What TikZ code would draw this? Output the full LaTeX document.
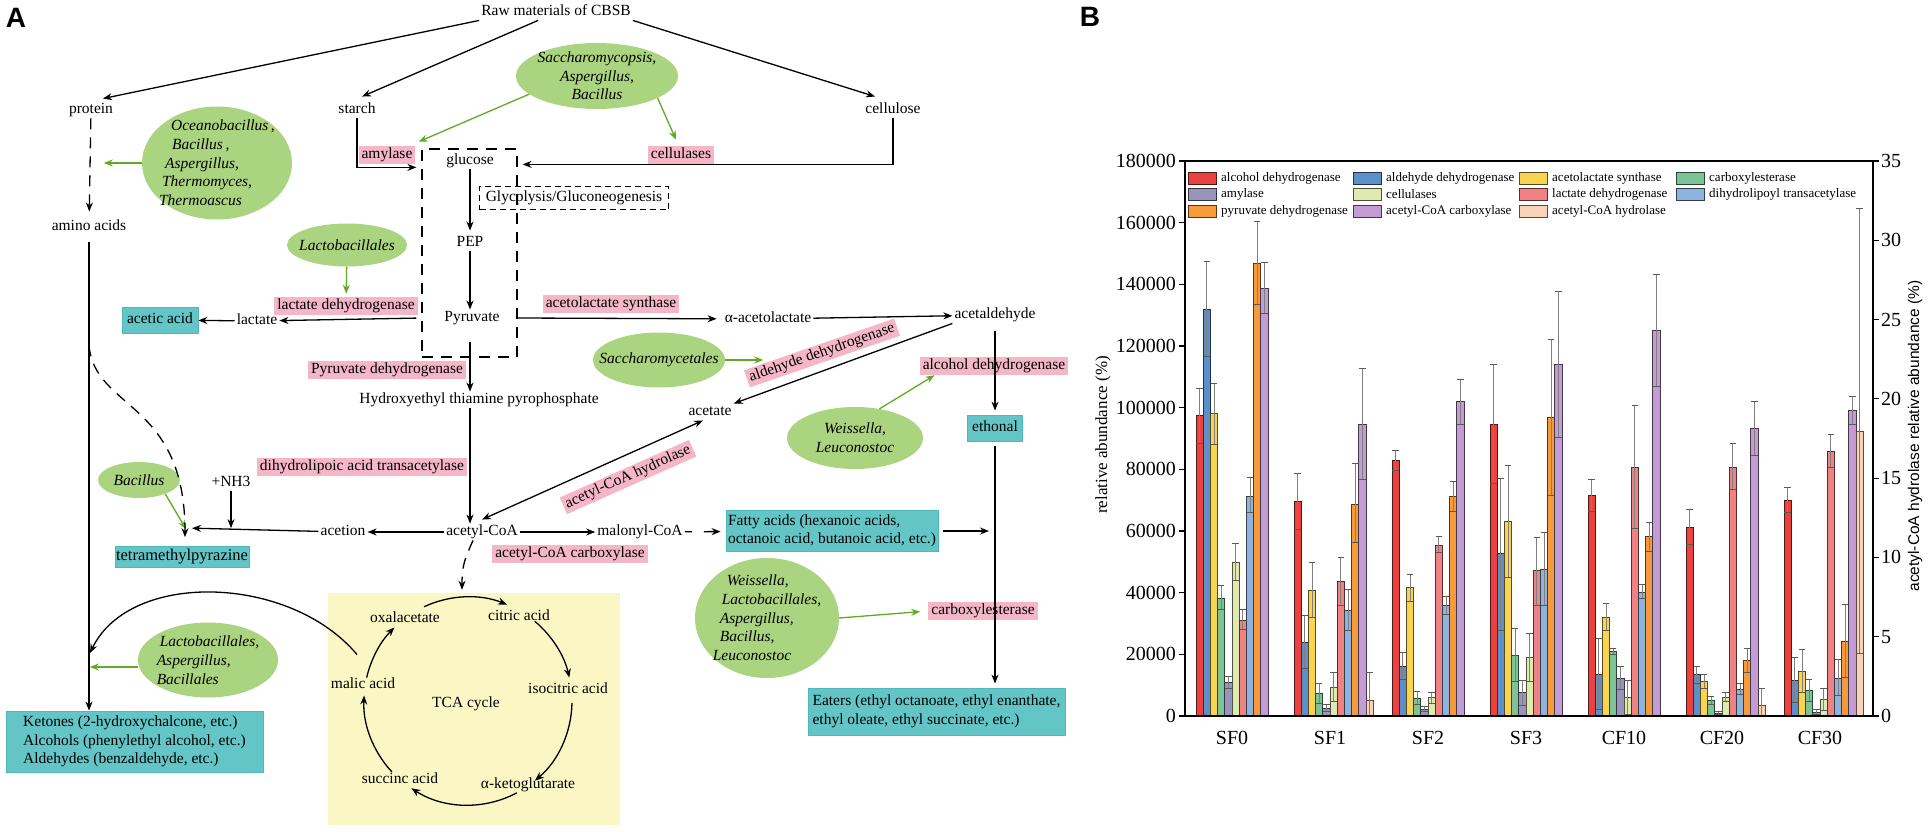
\documentclass[tikz,border=0pt]{standalone}
\usepackage{fontspec}
\setmainfont{Liberation Serif}
\setsansfont{Liberation Sans}
\usetikzlibrary{arrows.meta,shapes.geometric,calc}

\definecolor{enzpink}{RGB}{245,182,200}
\definecolor{prodteal}{RGB}{99,197,198}
\definecolor{prodline}{RGB}{80,184,186}
\definecolor{micgreen}{RGB}{170,212,127}
\definecolor{arrgreen}{RGB}{98,170,38}
\definecolor{tcayellow}{RGB}{251,247,197}
\definecolor{bar1}{RGB}{234,66,62}
\definecolor{bar2}{RGB}{92,144,203}
\definecolor{bar3}{RGB}{248,212,80}
\definecolor{bar4}{RGB}{124,196,150}
\definecolor{bar5}{RGB}{152,148,186}
\definecolor{bar6}{RGB}{222,234,176}
\definecolor{bar7}{RGB}{240,130,132}
\definecolor{bar8}{RGB}{142,180,222}
\definecolor{bar9}{RGB}{246,154,58}
\definecolor{bar10}{RGB}{196,156,212}
\definecolor{bar11}{RGB}{250,210,184}

\tikzset{
  >={Stealth[length=9pt,width=7pt]},
  base/.style={font=\fontsize{15.5}{18}\selectfont,inner xsep=2pt,inner ysep=1pt,
    text height=11pt,text depth=3.5pt},
  enz/.style={base,fill=enzpink,inner xsep=3pt,inner ysep=1.8pt},
  prod/.style={base,fill=prodteal,draw=prodline,line width=0.8pt},
  prodbox/.style={font=\fontsize{15.5}{18.5}\selectfont,fill=prodteal,draw=prodline,
    line width=0.8pt,align=left,inner sep=0pt},
  mic/.style={ellipse,fill=micgreen,inner sep=0pt},
  mictext/.style={font=\fontsize{15.5}{18.7}\selectfont\itshape,inner sep=0pt},
  arr/.style={->,line width=1.3pt},
  garr/.style={->,draw=arrgreen,line width=1.3pt},
  dash1/.style={dash pattern=on 11pt off 8pt},
  panlab/.style={font=\sffamily\bfseries\fontsize{28}{30}\selectfont},
  tick/.style={font=\fontsize{20}{21}\selectfont,inner sep=0pt},
}

\begin{document}
\begin{tikzpicture}[x=1pt,y=-1pt]
\useasboundingbox (0,0) rectangle (1928,832);
\node[panlab] (labA) at (16,18) {A};
\node[panlab] (labB) at (1090,17) {B};

% raw materials
\node[base] (raw) at (556,12) {Raw materials of CBSB};
\node[base] (protein) at (91,110) {protein};
\node[base] (starch) at (357,110) {starch};
\node[base] (cellulose) at (893,110) {cellulose};
\node[base] (amino) at (89,227) {amino acids};
\node[enz] (amylase) at (387,155) {amylase};
\node[enz] (cellulases) at (681,155) {cellulases};
\node[mic,minimum width=150pt,minimum height=113pt,label={[mictext,align=left]center:{\hspace*{12pt}Oceanobacillus\,,\\\hspace*{13pt}Bacillus\,,\\\hspace*{6pt}Aspergillus,\\\hspace*{3pt}Thermomyces,\\Thermoascus}}] (oceano) at (217,163) {};
\node[mic,minimum width=162pt,minimum height=66pt,label={[mictext,align=center]center:{Saccharomycopsis,\\Aspergillus,\\Bacillus}}] (sacc) at (597,76) {};

% glycolysis
\node[draw,dash1,line width=1.2pt,minimum width=95pt,minimum height=208pt] (gly) at (469.5,253) {};
\node[base] (glucose) at (470,161) {glucose};
\node[base,draw,dash pattern=on 6pt off 4pt,line width=1pt,minimum width=189pt,minimum height=23pt] (glyco) at (574,198) {Glycplysis/Gluconeogenesis};
\node[base] (pep) at (470,243) {PEP};
\node[base] (pyruvate) at (472,318) {Pyruvate};
\node[mic,minimum width=120pt,minimum height=43pt,label={[mictext]center:Lactobacillales}] (lacto) at (347,245) {};
\node[enz] (ldh) at (346,306) {lactate dehydrogenase};
\node[base] (lactate) at (257,321) {lactate};
\node[prod,inner xsep=5pt,inner ysep=5.7pt] (acetic) at (160,320) {acetic acid};

% acetyl-CoA
\node[enz] (pdh) at (387,370) {Pyruvate dehydrogenase};
\node[base] (htpp) at (479,400) {Hydroxyethyl thiamine pyrophosphate};
\node[enz] (dlat) at (362,467) {dihydrolipoic acid transacetylase};
\node[base] (acoa) at (482,532) {acetyl-CoA};
\node[base] (acetion) at (343,532) {acetion};
\node[base] (nh3) at (231,483) {+NH3};
\node[mic,minimum width=82pt,minimum height=36pt,label={[mictext]center:Bacillus}] (bac) at (139,480) {};
\node[prod,font=\fontsize{16.5}{18}\selectfont,inner xsep=1pt,inner ysep=3.2pt] (tmp) at (182,557) {tetramethylpyrazine};
\coordinate (tin) at ($(tmp.north)+(10,-18)$);

% acetolactate, acetaldehyde
\node[enz] (als) at (611,304) {acetolactate synthase};
\node[base] (alac) at (768,319) {α-acetolactate};
\node[base] (acald) at (995,315) {acetaldehyde};
\node[mic,minimum width=132pt,minimum height=55pt,label={[mictext]center:Saccharomycetales}] (yeast) at (659,360) {};
\node[enz,rotate=19] (aldh) at (822,353) {aldehyde dehydrogenase};
\node[base] (acetate) at (710,412) {acetate};
\node[enz,rotate=24] (acoah) at (628,477) {acetyl-CoA hydrolase};
\node[mic,minimum width=136pt,minimum height=62pt,label={[mictext,align=center]center:{Weissella,\\Leuconostoc}}] (weis) at (855,438) {};
\node[enz] (adh) at (994,366) {alcohol dehydrogenase};
\node[prod,inner xsep=5pt,inner ysep=5.7pt] (ethonal) at (995,428) {ethonal};

% fatty acids, esters
\node[base] (malonyl) at (640,532) {malonyl-CoA};
\node[enz] (acc) at (570,554) {acetyl-CoA carboxylase};
\node[prodbox,minimum width=212pt,minimum height=41pt] (fatty) at (832,531) {Fatty acids (hexanoic acids,\\octanoic acid, butanoic acid, etc.)};
\node[mic,minimum width=144pt,minimum height=120pt,label={[mictext,align=left]center:{\hspace*{14pt}Weissella,\\\hspace*{9pt}Lactobacillales,\\\hspace*{7pt}Aspergillus,\\\hspace*{7pt}Bacillus,\\Leuconostoc}}] (wmix) at (767,618) {};
\node[enz] (cxe) at (983,611) {carboxylesterase};
\node[prodbox,minimum width=257pt,minimum height=47pt] (eat) at (936.5,711.5) {Eaters (ethyl octanoate, ethyl enanthate,\\ethyl oleate, ethyl succinate, etc.)};

% TCA cycle
\node[fill=tcayellow,minimum width=292pt,minimum height=232pt] (tcabox) at (474,709) {};
\coordinate (tc) at (468,701);
\node[base] (oxa) at (405,619) {oxalacetate};
\node[base] (cit) at (519,617) {citric acid};
\node[base] (iso) at (568,690) {isocitric acid};
\node[base] (akg) at (528,785) {α-ketoglutarate};
\node[base] (suc) at (400,780) {succinc acid};
\node[base] (mal) at (363,685) {malic acid};
\node[base] (tcac) at (466,704) {TCA cycle};
\foreach \a/\b in {-115/-68,-50/-13,1/50,62/123,137/183,-167/-135}
  \draw[arr] ([shift={(\a:104)}]tc) arc[start angle=\a,end angle=\b,radius=104];

\node[mic,minimum width=140pt,minimum height=75pt,label={[mictext,align=left]center:{\hspace*{3pt}Lactobacillales,\\Aspergillus,\\Bacillales}}] (lab) at (208,660) {};
\node[prodbox,minimum width=257pt,minimum height=61pt] (ket) at (134.5,741.5) {Ketones (2-hydroxychalcone, etc.)\\Alcohols (phenylethyl alcohol, etc.)\\Aldehydes (benzaldehyde, etc.)};

% connectors
\draw[arr] (raw.south west) -- ([xshift=12pt,yshift=3pt]protein.north);
\draw[arr] ([xshift=-18pt]raw.south) -- ([xshift=5pt,yshift=5pt]starch.north);
\draw[arr] (raw.south east) -- ([xshift=-18pt,yshift=5pt]cellulose.north);
\draw[arr,dash1,shorten >=7pt] (protein) -- (amino);
\draw[garr] (oceano.west) -- ++(-38,0);
\draw[arr] (starch.south) |- ($(gly.north west)+(-5,19)$);
\draw[arr] (cellulose.south) |- ($(gly.north east)+(5,16)$);
\draw[garr] (sacc.195) -- ([shift={(3pt,4pt)}]amylase.north east);
\draw[garr] (sacc.-20) -- ([xshift=-5pt,yshift=6pt]cellulases.north);
\draw[arr,shorten >=4pt] (glucose) -- (pep);
\draw[arr] (pep) -- (pep |- pyruvate.north);
\draw[garr,shorten >=3pt] (lacto) -- (ldh);
\draw[arr,shorten <=5pt] (gly.west |- pyruvate) -- (lactate);
\draw[arr] (lactate) -- (acetic);
\draw[arr,shorten <=16pt] (pyruvate.south -| pep) -- (pep |- htpp.north);
\draw[arr] (htpp.south -| pep) -- (pep |- acoa.north);
\draw[arr] (acoa) -- (acetion);
\draw[arr] (acetion) -- (tin);
\draw[arr] (nh3) -- (nh3 |- tin);
\draw[garr] (bac.-28) -- ([xshift=-6pt,yshift=-1pt]tin);
\draw[arr,dash1] ($(amino.south)+(0,110)$) .. controls +(6,65) and +(0,-137) .. ($(tmp.north)+(3,-9)$);
\draw[arr,shorten <=7pt] (amino.south) -- (amino.south |- ket.north);
\draw[garr] ([yshift=-7pt]lab.west) -- ++(-48,0);
\draw[arr] ([xshift=-6pt,yshift=22pt]mal.north) .. controls +(-67,-80) and +(40,-83) .. ($(amino.south |- lab)+(1,-7)$);
\draw[arr,shorten >=6pt] (gly.east |- pyruvate) -- (alac);
\draw[arr] (alac) -- (acald);
\draw[arr] (acald.south west) -- (acetate.north east);
\draw[garr] (yeast.east) -- ++(38,0);
\draw[arr,<->] ([yshift=4pt]acoa.north) -- ([xshift=-7pt]acetate.south);
\draw[garr] (weis.50) -- ([xshift=15pt]adh.south west);
\draw[arr,shorten <=8pt,shorten >=4pt] (acald) -- (ethonal);
\draw[arr,shorten <=5pt,shorten >=4pt] (ethonal) -- (ethonal |- eat.north);
\draw[arr] ([xshift=5pt]fatty.east) -- ($(fatty.east -| ethonal)+(-6,0)$);
\draw[arr] (acoa) -- (malonyl);
\draw[arr,dash pattern=on 7pt off 12pt on 40pt,shorten >=5pt] (malonyl) -- (fatty);
\draw[arr,dash1] ([xshift=-9pt]acoa.south) .. controls +(-8,18) and +(0,-25) .. ($(tcabox.north)+(-12,-3)$);
\draw[garr,shorten >=8pt] (wmix.east) -- (cxe.west);

% panel B: bars
\foreach \g/\dat in {
 0/{97.4/88.5/106.2,131.8/116.7/147.5,98/88/108,38.3/34.5/42.5,11/9/13,49.9/44/56,31.1/28/34.5,71.3/66/77.5,146.9/133.5/160.5,138.7/130.5/147,0/0/0},
 1/{69.7/60.4/78.6,24/15.3/32.7,40.8/32/49.8,7.2/4.1/10.6,2.5/1.5/3.7,9.3/4.7/14,43.7/35.8/51.4,34.2/27.7/41,68.8/56.3/81.8,94.5/76.6/112.7,5.1/0/14},
 2/{82.8/79.6/86,16.2/11.8/20.6,41.7/37.3/46,5.7/3.7/8,2.2/1.5/3,6/4.2/7.7,55.5/52.9/58.2,35.8/33.1/38.7,71.3/66.3/76.1,102/94.5/109.2,0/0/0},
 3/{94.5/75.4/113.9,52.6/27.7/77.2,63.2/45.1/81.2,19.7/11.2/28.4,7.6/3.5/11.6,19/11.2/26.7,47.4/35.8/57.8,47.6/35.8/59.7,96.8/71.6/122,113.9/90.2/137.8,0/0/0},
 4/{71.5/66.5/76.6,13.4/2/25.2,32.1/27.7/36.4,20.9/19.9/21.8,12.2/8.5/16.2,6/0.4/11.6,80.6/60.7/100.7,40.2/38.3/42.7,58.2/53.5/62.9,125/107/143.3,0/0/0},
 5/{61.3/55.7/66.9,13.4/10.6/16.2,11.2/9/13.4,5/3.7/6.2,1/0.6/1.4,6.2/4.6/7.8,80.8/73.4/88.3,8.7/7.1/10.6,18/14.3/21.8,93.3/84.6/102.1,3.5/0/9.1},
 6/{70/65.9/74,11.6/4.4/19,14.4/7.5/21.5,8.2/4.6/11.8,1.2/0.5/2,5.3/1.9/8.8,85.9/80.6/91.4,12.2/6.6/18.4,24.3/12.4/36.1,99/94.5/103.6,92.4/20.3/164.6}}{
  \foreach \v/\lo/\hi [count=\s] in \dat {
    \ifdim\v pt>0pt
      \pgfmathsetmacro\xl{1196+98*\g+7.2*(\s-1)}
      \pgfmathsetmacro\xc{\xl+3.6}
      \draw[fill=bar\s,draw=bar\s!35!black,line width=0.7pt] (\xl,716) rectangle ++(7.2,{-3.0833*\v});
      \draw[gray,line width=0.8pt] (\xc,{716-3.0833*\lo}) -- (\xc,{716-3.0833*\hi});
      \draw[black!65,line width=0.8pt] ({\xc-3.2},{716-3.0833*\hi}) -- ++(6.4,0)
        ({\xc-3.2},{716-3.0833*\lo}) -- ++(6.4,0);
    \fi
  }
}

% panel B: axes
\draw[line width=1.2pt] (1185,161) rectangle (1873,716);
\foreach \k/\t in {0/0,20/20000,40/40000,60/60000,80/80000,100/100000,120/120000,140/140000,160/160000,180/180000}{
  \draw[line width=1.2pt] (1185,{716-3.0833*\k}) -- ++(-6,0);
  \node[tick,anchor=east] (yl\k) at (1176,{716-3.0833*\k}) {\t};
}
\foreach \r in {0,5,...,35}{
  \draw[line width=1.2pt] (1873,{716-15.857*\r}) -- ++(6,0);
  \node[tick,anchor=west] (yr\r) at (1881,{716-15.857*\r}) {\r};
}
\node[rotate=90,font=\fontsize{17}{18}\selectfont] (ytitle) at (1103,435) {relative abundance (\%)};
\node[rotate=90,font=\sffamily\fontsize{15.5}{17}\selectfont] (y2title) at (1915,436) {acetyl-CoA hydrolase relative abundance (\%)};
\foreach \c [count=\g from 0] in {SF0,SF1,SF2,SF3,CF10,CF20,CF30}
  \node[font=\fontsize{20}{21}\selectfont] (cat\g) at ({1232+98*\g},738) {\c};

% panel B: legend
\foreach \s/\lx/\ly/\lab in {1/1188/178/alcohol dehydrogenase,2/1353/178/aldehyde dehydrogenase,
  3/1519/178/acetolactate synthase,4/1676/178/carboxylesterase,5/1188/194/amylase,
  6/1353/194/cellulases,7/1519/194/lactate dehydrogenase,8/1676/194/dihydrolipoyl transacetylase,
  9/1188/211/pyruvate dehydrogenase,10/1353/211/acetyl-CoA carboxylase,11/1519/211/acetyl-CoA hydrolase}{
  \draw[fill=bar\s,draw=bar\s!35!black,line width=0.9pt] (\lx,{\ly-6}) rectangle ++(28,12);
  \node[anchor=west,font=\fontsize{13}{14}\selectfont,inner sep=0pt] (leg\s) at ({\lx+33},\ly) {\lab};
}
\end{tikzpicture}
\end{document}
